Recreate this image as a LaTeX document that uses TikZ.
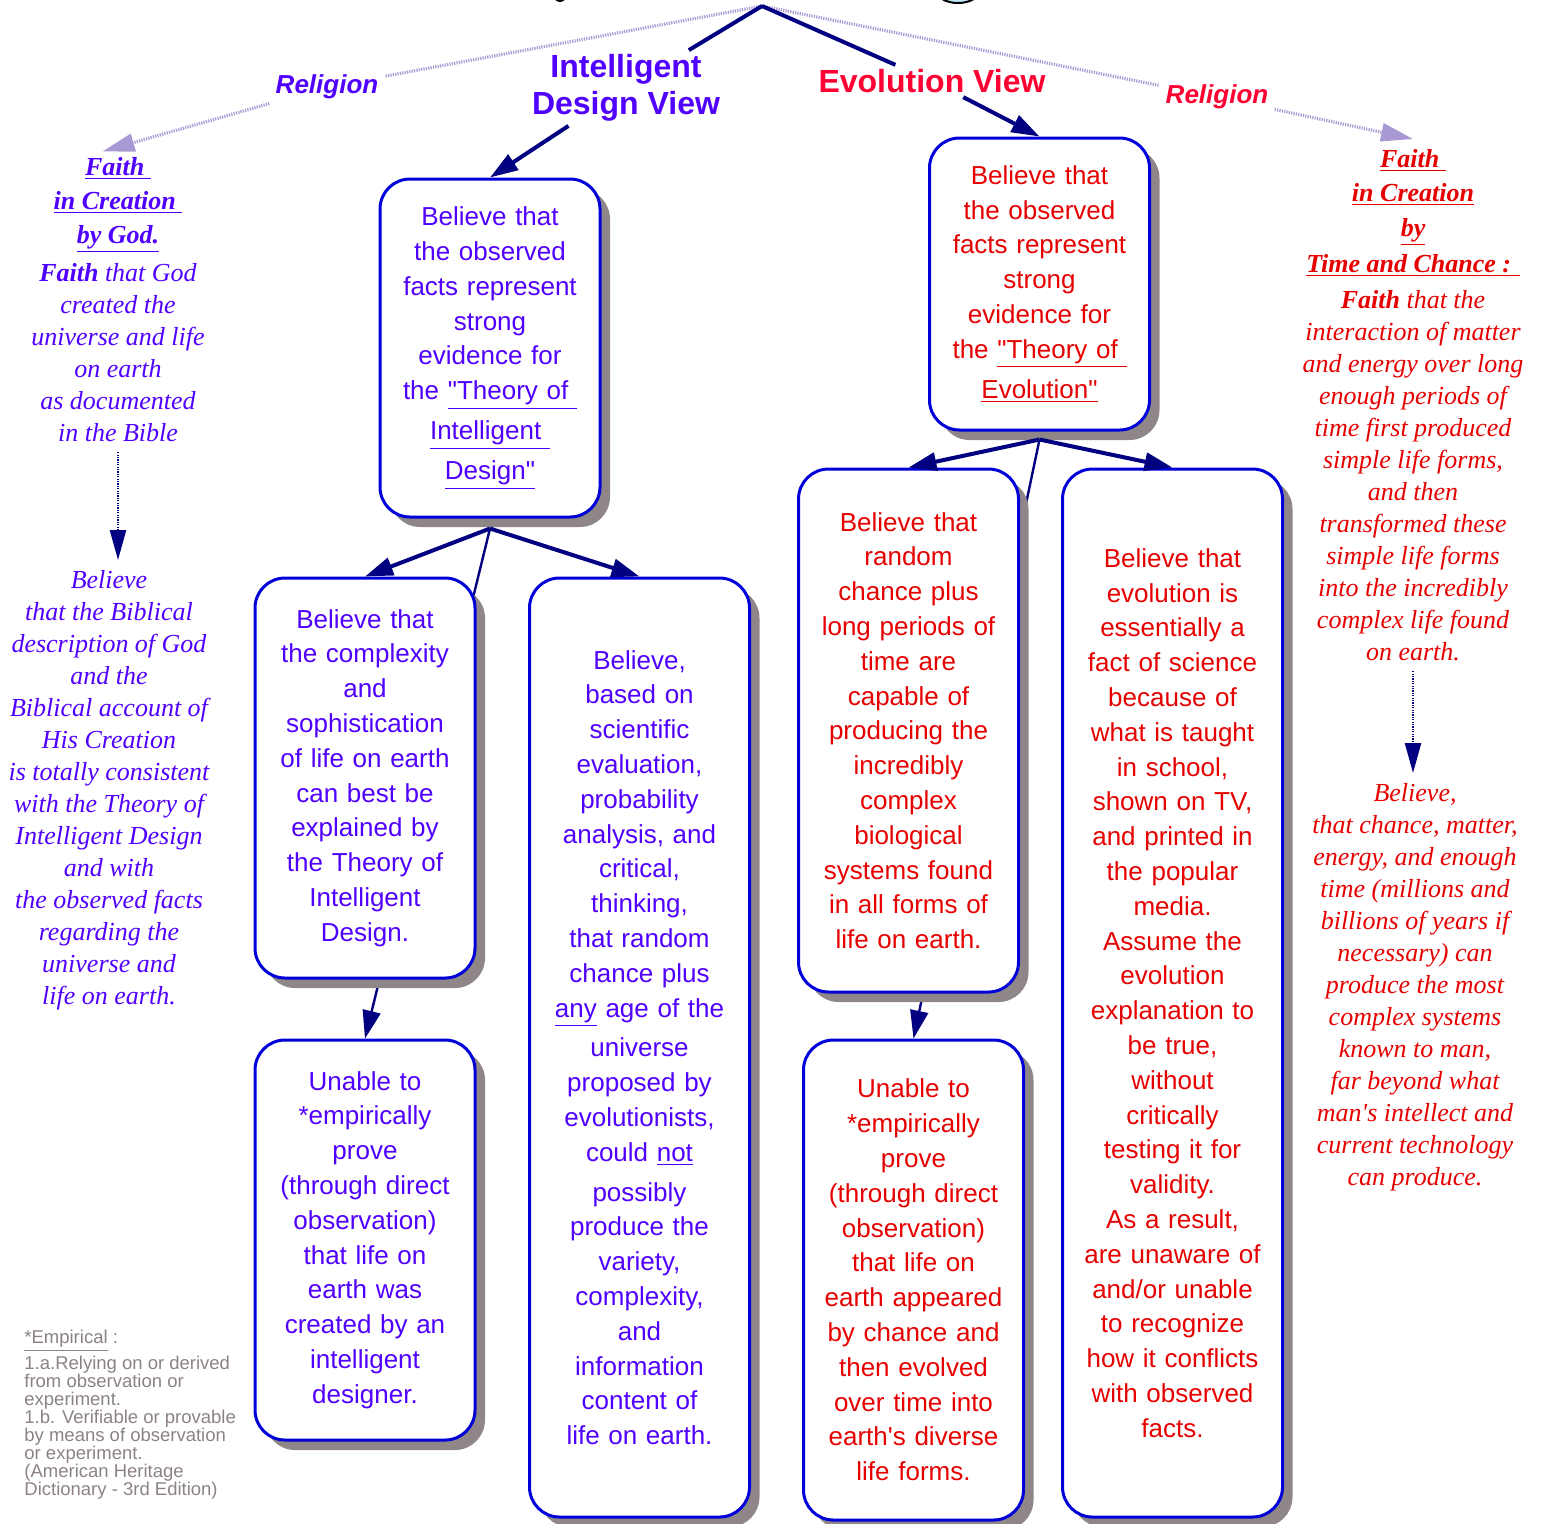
\documentclass[tikz,border=0pt]{standalone}
\usepackage{fontspec}
\setmainfont{Liberation Sans}[Ligatures=TeXOff]
\newfontfamily\timesfont{Liberation Serif}[Ligatures=TeXOff]
\usetikzlibrary{arrows.meta,shadows,backgrounds}

\definecolor{idblue}{HTML}{5000FF}
\definecolor{evored}{HTML}{FF0033}
\definecolor{evotext}{HTML}{E60000}
\definecolor{boxblue}{HTML}{0000D8}
\definecolor{shadowgray}{HTML}{8F8787}
\definecolor{navy}{HTML}{000080}
\definecolor{lavender}{HTML}{A899D4}
\definecolor{notegray}{HTML}{8C8282}

\newcommand{\ulx}[1]{\underline{#1}}

\begin{document}
\begin{tikzpicture}[
  x=0.5pt, y=-0.5pt,
  viewbox/.style={rectangle, draw=boxblue, line width=1.5pt, fill=white, rounded corners=15pt, align=center, text width=104pt, minimum width=110pt, inner sep=0pt, font=\fontsize{13pt}{17.4pt}\selectfont, drop shadow={shadow xshift=5pt, shadow yshift=-5pt, fill=shadowgray, opacity=1}},
  idbox/.style={viewbox, text=idblue},
  evobox/.style={viewbox, text=evotext},
  heading/.style={font=\bfseries\fontsize{16pt}{18.5pt}\selectfont, align=center, inner sep=2pt},
  relabel/.style={font=\bfseries\itshape\fontsize{13pt}{15pt}\selectfont, inner sep=3pt},
  column/.style={font=\timesfont\itshape\fontsize{13pt}{16pt}\selectfont, align=center, inner xsep=0pt, inner ysep=5pt, anchor=north},
  link/.style={draw=navy, line width=2pt},
  arr/.style={link, -{Triangle[length=14pt,width=9pt]}},
  thinarr/.style={draw=navy, line width=1.2pt, -{Triangle[length=14pt,width=9pt]}},
  relline/.style={draw=lavender, line width=1.6pt, dash pattern=on 0.6pt off 0.6pt},
  relarr/.style={relline, -{Triangle[length=16pt,width=9pt]}},
  colarr/.style={draw=navy, line width=1.2pt, dash pattern=on 0.6pt off 0.6pt, -{Triangle[length=15pt,width=8pt]}}
]
  \useasboundingbox (0,0) rectangle (1545,1523);

  % cut-off shapes at the top edge
  \begin{scope}
    \clip (0,0) rectangle (1545,1523);
    \draw[line width=1pt, fill=cyan!25] (958,-10) ellipse [x radius=22, y radius=13];
    \fill (560,-8) ellipse [x radius=8, y radius=10];
  \end{scope}

  % headings
  \coordinate (apex) at (762,6);
  \node[heading, text=idblue] (idview) at (626,88) {Intelligent\\Design View};
  \node[heading, text=evored] (evoview) at (932,81) {Evolution View};
  \node[relabel, text=idblue] (relL) at (327,87) {Religion};
  \node[relabel, text=evored] (relR) at (1217,97) {Religion};

  % ==================== INTELLIGENT DESIGN SIDE ====================
  \node[idbox, minimum height=169pt] (idtop) at (490,348) {Believe that\\the observed\\facts represent\\strong\\evidence for\\the \ulx{"Theory of }\\[2.6pt]\ulx{Intelligent }\\[2.6pt]\ulx{Design"}};
  \node[idbox, minimum height=200pt] (idleft) at (365,778) {Believe that\\the complexity\\and\\sophistication\\of life on earth\\can best be\\explained by\\the Theory of\\Intelligent\\Design.};
  \node[idbox, minimum height=469.5pt] (idmid) at (639.5,1047.5) {Believe,\\based on\\scientific\\evaluation,\\probability\\analysis, and\\critical,\\thinking,\\that random\\chance plus\\\ulx{any} age of the\\[2.4pt]universe\\proposed by\\evolutionists,\\could \ulx{not}\\[2.6pt]possibly\\produce the\\variety,\\complexity,\\and\\information\\content of\\life on earth.};
  \node[idbox, minimum height=200pt] (idunable) at (365,1240) {Unable to\\\relax*empirically\\prove\\(through direct\\observation)\\that life on\\earth was\\created by an\\intelligent\\designer.};

  % ==================== EVOLUTION SIDE ====================
  \node[evobox, minimum height=146pt] (evotop) at (1039.5,284) {Believe that\\the observed\\facts represent\\strong\\evidence for\\the \ulx{"Theory of }\\[2.6pt]\ulx{Evolution"}};
  \node[evobox, minimum height=261.5pt] (evoleft) at (908.5,730.5) {Believe that\\random\\chance plus\\long periods of\\time are\\capable of\\producing the\\incredibly\\complex\\biological\\systems found\\in all forms of\\life on earth.};
  \node[evobox, minimum height=524pt] (evoright) at (1172.5,993) {Believe that\\evolution is\\essentially a\\fact of science\\because of\\what is taught\\in school,\\shown on TV,\\and printed in\\the popular\\media.\\Assume the\\evolution\\explanation to\\be true,\\without\\critically\\testing it for\\validity.\\As a result,\\are unaware of\\and/or unable\\to recognize\\how it conflicts\\with observed\\facts.};
  \node[evobox, minimum height=240pt] (evounable) at (913.5,1280) {Unable to\\\relax*empirically\\prove\\(through direct\\observation)\\that life on\\earth appeared\\by chance and\\then evolved\\over time into\\earth's diverse\\life forms.};

  % side columns
  \node[column, text=idblue] (leftA) at (118,147) {\ulx{\textbf{Faith }}\\[1pt]\ulx{\textbf{in Creation }}\\[1pt]\ulx{\textbf{by God.}}\\[3pt]\textbf{Faith} that God\\created the\\universe and life\\on earth\\as documented\\in the Bible};
  \node[column, text=idblue] (leftB) at (109,560) {Believe\\that the Biblical\\description of God\\and the\\Biblical account of\\His Creation\\is totally consistent\\with the Theory of\\Intelligent Design\\and with\\the observed facts\\regarding the\\universe and\\life on earth.};
  \node[column, text=evotext] (rightA) at (1413,139) {\ulx{\textbf{Faith }}\\[1pt]\ulx{\textbf{in Creation}}\\[1.5pt]\ulx{\textbf{by}}\\[2pt]\ulx{\textbf{Time and Chance : }}\\[2pt]\textbf{Faith} that the\\interaction of matter\\and energy over long\\enough periods of\\time first produced\\simple life forms,\\and then\\transformed these\\simple life forms\\into the incredibly\\complex life found\\on earth.};
  \node[column, text=evotext] (rightB) at (1415,773) {Believe,\\that chance, matter,\\energy, and enough\\time (millions and\\billions of years if\\necessary) can\\produce the most\\complex systems\\known to man,\\far beyond what\\man's intellect and\\current technology\\can produce.};

  % footnote
  \node[anchor=north west, align=left, text=notegray, font=\fontsize{9.25pt}{9pt}\selectfont, inner sep=0pt] (note) at (24,1330) {\ulx{*Empirical} :\\[1pt]1.a.Relying on or derived\\from observation or\\experiment.\\1.b. Verifiable or provable\\by means of observation\\or experiment.\\(American Heritage\\Dictionary - 3rd Edition)};

  % connectors passing behind the boxes
  \begin{pgfonlayer}{background}
    \draw[thinarr] ([yshift=-5pt]idtop.south) -- (idunable.north);
    \draw[thinarr] ([yshift=-4pt]evotop.south) -- (evounable.north);
  \end{pgfonlayer}

  % connectors
  \draw[relline] (apex) -- (relL);
  \draw[relarr, shorten >=-8pt] (relL) -- (leftA.north);
  \draw[relline] (apex) -- (relR);
  \draw[relarr] (relR) -- (rightA.north);
  \draw[link] (apex) -- (idview);
  \draw[link] (apex) -- (evoview);
  \draw[arr] (idview) -- (idtop.north);
  \draw[arr] (evoview) -- (evotop.north);
  \draw[arr] ([yshift=-5pt]idtop.south) -- (idleft.north);
  \draw[arr] ([yshift=-5pt]idtop.south) -- (idmid.north);
  \draw[arr] ([yshift=-4pt]evotop.south) -- (evoleft.north);
  \draw[arr] ([yshift=-4pt]evotop.south) -- (evoright.north);
  \draw[colarr] (leftA.south) -- (leftA.south |- leftB.north);
  \draw[colarr] (rightA.south) -- (rightA.south |- rightB.north);

\end{tikzpicture}
\end{document}
